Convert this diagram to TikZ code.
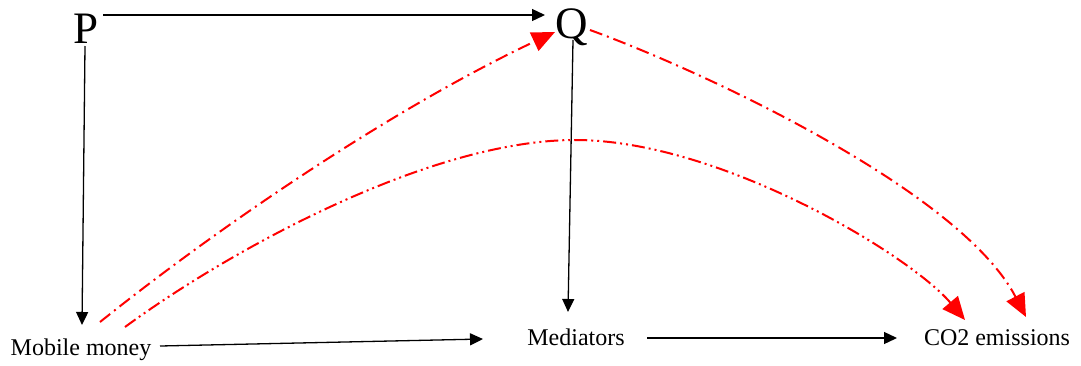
\documentclass[tikz,border=0pt]{standalone}
\usepackage{fontspec}
\setmainfont{Liberation Serif}
\usetikzlibrary{arrows.meta}
\begin{document}
\begin{tikzpicture}[x=1pt,y=-1pt,
  lbl/.style={inner sep=0pt,anchor=base,font=\fontsize{24}{28}\selectfont},
  big/.style={inner sep=0pt,anchor=base,font=\fontsize{45}{50}\selectfont},
  blk/.style={line width=1.3pt,draw=black,-{Triangle[length=13pt,width=12pt]}},
  redbase/.style={line width=2pt,draw=red,-{Triangle[length=23pt,width=20pt,fill=red]}},
  dashdot/.style={redbase,dash pattern=on 13pt off 5pt on 2pt off 5pt},
  dashdotdot/.style={redbase,dash pattern=on 13pt off 4pt on 2pt off 4pt on 2pt off 4pt}]
\useasboundingbox (0,0) rectangle (1081,365);
\node[big] (P) at (86,43) {P};
\node[big] (Q) at (572,38) {Q};
\node[lbl] (MM) at (81,355) {Mobile money};
\node[lbl] (Med) at (576,345) {Mediators};
\node[lbl] (CO) at (997,345) {CO2 emissions};
\coordinate (m1) at (100,322);
\coordinate (m2) at (125,327);
% black arrows
\draw[blk] ([xshift=17pt,yshift=28pt]P.base) -- ([xshift=-27pt,yshift=23pt]Q.base);
\draw[blk] ([xshift=-1pt,yshift=-3pt]P.base) -- ([xshift=1pt,yshift=30pt]MM.base);
\draw[blk] ([xshift=1pt,yshift=-2pt]Q.base) -- ([xshift=-8pt,yshift=33pt]Med.base);
\draw[blk] ([xshift=79pt,yshift=9pt]MM.base) -- ([xshift=-93pt,yshift=6pt]Med.base);
\draw[blk] ([xshift=71pt,yshift=7pt]Med.base) -- ([xshift=-100pt,yshift=7pt]CO.base);
% red curves
\draw[dashdot] (m1) .. controls (240,210) and (410,100) .. ([xshift=-17pt,yshift=6pt]Q.base);
\draw[dashdotdot] (m2) .. controls (230,250) and (430,140) .. (575,140)
  .. controls (720,140) and (910,255) .. ([xshift=-32pt,yshift=25pt]CO.base);
\draw[dashdot] ([xshift=18pt,yshift=8pt]Q.base) .. controls (700,70) and (960,190) .. ([xshift=29pt,yshift=28pt]CO.base);
\end{tikzpicture}
\end{document}
